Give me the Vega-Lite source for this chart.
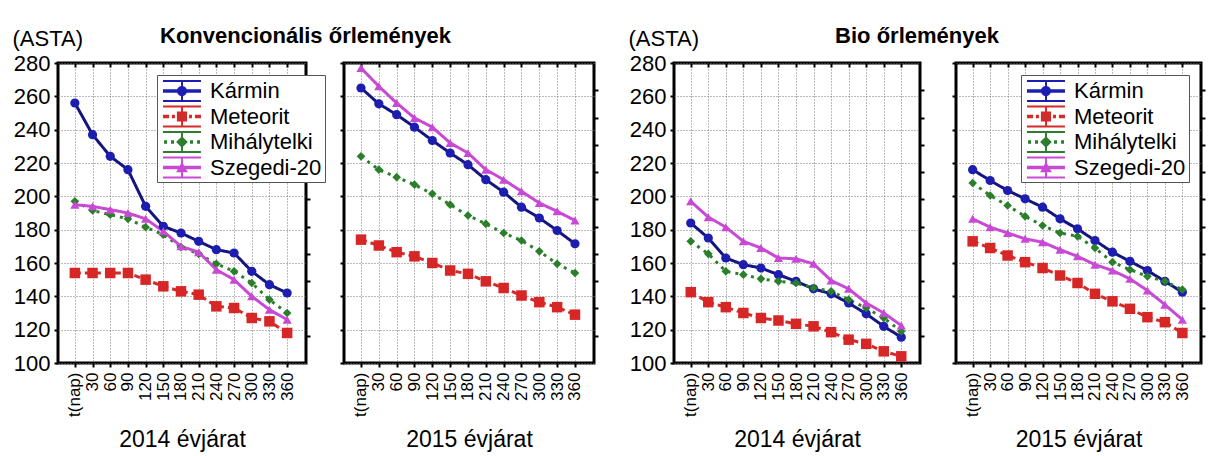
{
  "$schema": "https://vega.github.io/schema/vega-lite/v6.json",
  "background": "white",
  "padding": {"left": 10, "top": 24, "right": 0, "bottom": 0},
  "config": {
    "font": "Liberation Sans",
    "view": {"stroke": "black", "strokeWidth": 3},
    "axis": {"labelColor": "black", "titleColor": "black", "tickColor": "black", "tickWidth": 2, "domain": false, "gridColor": "#777", "gridDash": [1, 2], "gridWidth": 1, "labelFont": "Liberation Sans", "titleFont": "Liberation Sans"},
    "title": {"color": "black", "font": "Liberation Sans"},
    "legend": {"labelFontSize": 22, "labelColor": "black", "labelFont": "Liberation Sans", "symbolSize": 676, "symbolStrokeWidth": 0, "symbolOpacity": 1, "labelOffset": 24, "padding": 3, "rowPadding": 0.5, "strokeColor": "#555", "fillColor": "white"}
  },
  "datasets": {
    "d": [
      {"p": "K14", "t": 0, "Kármin": 256, "Meteorit": 154, "Mihálytelki": 197, "Szegedi-20": 195},
      {"p": "K14", "t": 30, "Kármin": 237, "Meteorit": 154, "Mihálytelki": 191.5, "Szegedi-20": 194},
      {"p": "K14", "t": 60, "Kármin": 224, "Meteorit": 154, "Mihálytelki": 189, "Szegedi-20": 192},
      {"p": "K14", "t": 90, "Kármin": 216, "Meteorit": 154, "Mihálytelki": 186.5, "Szegedi-20": 190},
      {"p": "K14", "t": 120, "Kármin": 194, "Meteorit": 150, "Mihálytelki": 181.5, "Szegedi-20": 186.5},
      {"p": "K14", "t": 150, "Kármin": 182, "Meteorit": 146, "Mihálytelki": 177, "Szegedi-20": 179},
      {"p": "K14", "t": 180, "Kármin": 178, "Meteorit": 143, "Mihálytelki": 169.5, "Szegedi-20": 170},
      {"p": "K14", "t": 210, "Kármin": 173, "Meteorit": 141, "Mihálytelki": 165.5, "Szegedi-20": 166.5},
      {"p": "K14", "t": 240, "Kármin": 168, "Meteorit": 134, "Mihálytelki": 159.5, "Szegedi-20": 156},
      {"p": "K14", "t": 270, "Kármin": 166, "Meteorit": 133, "Mihálytelki": 155, "Szegedi-20": 150},
      {"p": "K14", "t": 300, "Kármin": 155, "Meteorit": 127, "Mihálytelki": 148, "Szegedi-20": 140},
      {"p": "K14", "t": 330, "Kármin": 147, "Meteorit": 125, "Mihálytelki": 138, "Szegedi-20": 132},
      {"p": "K14", "t": 360, "Kármin": 142, "Meteorit": 118, "Mihálytelki": 130, "Szegedi-20": 126},
      {"p": "K15", "t": 0, "Kármin": 265, "Meteorit": 174, "Mihálytelki": 224, "Szegedi-20": 277},
      {"p": "K15", "t": 30, "Kármin": 255.5, "Meteorit": 170.5, "Mihálytelki": 216, "Szegedi-20": 266},
      {"p": "K15", "t": 60, "Kármin": 249, "Meteorit": 166.5, "Mihálytelki": 211.5, "Szegedi-20": 256},
      {"p": "K15", "t": 90, "Kármin": 241.5, "Meteorit": 164, "Mihálytelki": 207, "Szegedi-20": 247},
      {"p": "K15", "t": 120, "Kármin": 233.5, "Meteorit": 160, "Mihálytelki": 201.5, "Szegedi-20": 241.5},
      {"p": "K15", "t": 150, "Kármin": 226, "Meteorit": 155.5, "Mihálytelki": 195, "Szegedi-20": 232},
      {"p": "K15", "t": 180, "Kármin": 219, "Meteorit": 153.5, "Mihálytelki": 188.5, "Szegedi-20": 226},
      {"p": "K15", "t": 210, "Kármin": 210, "Meteorit": 149, "Mihálytelki": 183.5, "Szegedi-20": 216},
      {"p": "K15", "t": 240, "Kármin": 202.5, "Meteorit": 145, "Mihálytelki": 178, "Szegedi-20": 210},
      {"p": "K15", "t": 270, "Kármin": 193.5, "Meteorit": 140.5, "Mihálytelki": 173.5, "Szegedi-20": 203},
      {"p": "K15", "t": 300, "Kármin": 187, "Meteorit": 136.5, "Mihálytelki": 167, "Szegedi-20": 196},
      {"p": "K15", "t": 330, "Kármin": 179.5, "Meteorit": 133.5, "Mihálytelki": 159.5, "Szegedi-20": 191},
      {"p": "K15", "t": 360, "Kármin": 171.5, "Meteorit": 129, "Mihálytelki": 154, "Szegedi-20": 185.5},
      {"p": "B14", "t": 0, "Kármin": 184, "Meteorit": 142.5, "Mihálytelki": 173, "Szegedi-20": 197},
      {"p": "B14", "t": 30, "Kármin": 175, "Meteorit": 136.5, "Mihálytelki": 165.5, "Szegedi-20": 187.5},
      {"p": "B14", "t": 60, "Kármin": 163, "Meteorit": 133.5, "Mihálytelki": 155, "Szegedi-20": 181.5},
      {"p": "B14", "t": 90, "Kármin": 159, "Meteorit": 130, "Mihálytelki": 153, "Szegedi-20": 173},
      {"p": "B14", "t": 120, "Kármin": 157, "Meteorit": 127, "Mihálytelki": 150.5, "Szegedi-20": 169},
      {"p": "B14", "t": 150, "Kármin": 153, "Meteorit": 125.5, "Mihálytelki": 149, "Szegedi-20": 163},
      {"p": "B14", "t": 180, "Kármin": 149, "Meteorit": 123.5, "Mihálytelki": 148, "Szegedi-20": 162.5},
      {"p": "B14", "t": 210, "Kármin": 144.5, "Meteorit": 122, "Mihálytelki": 145, "Szegedi-20": 159.5},
      {"p": "B14", "t": 240, "Kármin": 141.5, "Meteorit": 118.5, "Mihálytelki": 143, "Szegedi-20": 149.5},
      {"p": "B14", "t": 270, "Kármin": 136, "Meteorit": 114, "Mihálytelki": 138, "Szegedi-20": 144.5},
      {"p": "B14", "t": 300, "Kármin": 129.5, "Meteorit": 111.5, "Mihálytelki": 133, "Szegedi-20": 136},
      {"p": "B14", "t": 330, "Kármin": 122, "Meteorit": 107, "Mihálytelki": 127, "Szegedi-20": 130},
      {"p": "B14", "t": 360, "Kármin": 115.5, "Meteorit": 104, "Mihálytelki": 119, "Szegedi-20": 122.5},
      {"p": "B15", "t": 0, "Kármin": 216, "Meteorit": 173, "Mihálytelki": 208, "Szegedi-20": 186.5},
      {"p": "B15", "t": 30, "Kármin": 209.5, "Meteorit": 169, "Mihálytelki": 200.5, "Szegedi-20": 181.5},
      {"p": "B15", "t": 60, "Kármin": 203.5, "Meteorit": 164.5, "Mihálytelki": 194.5, "Szegedi-20": 178},
      {"p": "B15", "t": 90, "Kármin": 198.5, "Meteorit": 160.5, "Mihálytelki": 188, "Szegedi-20": 174.5},
      {"p": "B15", "t": 120, "Kármin": 193.5, "Meteorit": 157, "Mihálytelki": 182.5, "Szegedi-20": 172.5},
      {"p": "B15", "t": 150, "Kármin": 186.5, "Meteorit": 152.5, "Mihálytelki": 178, "Szegedi-20": 168},
      {"p": "B15", "t": 180, "Kármin": 180.5, "Meteorit": 148, "Mihálytelki": 176, "Szegedi-20": 164},
      {"p": "B15", "t": 210, "Kármin": 173.5, "Meteorit": 141.5, "Mihálytelki": 169, "Szegedi-20": 159},
      {"p": "B15", "t": 240, "Kármin": 166.5, "Meteorit": 137, "Mihálytelki": 160.5, "Szegedi-20": 155.5},
      {"p": "B15", "t": 270, "Kármin": 161, "Meteorit": 132.5, "Mihálytelki": 156, "Szegedi-20": 150.5},
      {"p": "B15", "t": 300, "Kármin": 155.5, "Meteorit": 127.5, "Mihálytelki": 152, "Szegedi-20": 143.5},
      {"p": "B15", "t": 330, "Kármin": 149, "Meteorit": 124.5, "Mihálytelki": 149, "Szegedi-20": 135},
      {"p": "B15", "t": 360, "Kármin": 142.5, "Meteorit": 118, "Mihálytelki": 144, "Szegedi-20": 126}
    ]
  },
  "data": {"name": "d"},
  "spacing": 25,
  "hconcat": [
    {
      "title": {"text": "Konvencionális őrlemények", "anchor": "middle", "fontSize": 22, "fontWeight": "bold", "offset": -22},
      "spacing": 10,
      "hconcat": [
        {
          "width": 248, "height": 300,
          "transform": [{"filter": "datum.p == 'K14'"}, {"fold": ["Kármin", "Meteorit", "Mihálytelki", "Szegedi-20"], "as": ["fajta", "v"]}],
          "resolve": {"scale": {"color": "independent", "shape": "independent"}, "axis": {"x": "independent", "y": "independent"}},
          "layer": [
            {"mark": {"type": "line", "strokeWidth": 3},
             "encoding": {
               "x": {"field": "t", "type": "quantitative", "scale": {"domain": [-28.6, 392], "nice": false, "zero": false},
                     "axis": {"orient": "bottom", "values": [0,30,60,90,120,150,180,210,240,270,300,330,360], "labelExpr": "datum.value == 0 ? 't(nap)' : datum.label", "labelAngle": 270, "labelFontSize": 17, "labelPadding": 5, "labelOverlap": false, "labelFlush": false, "grid": true, "tickSize": 4, "title": "2014 évjárat", "titleFontSize": 23, "titleFontWeight": "normal", "titlePadding": 12}},
               "y": {"field": "v", "type": "quantitative", "scale": {"domain": [100, 280], "nice": false, "zero": false},
                     "axis": {"orient": "left", "values": [100,120,140,160,180,200,220,240,260,280], "labelFontSize": 22, "labelPadding": 4, "labelFlush": false, "labelOverlap": false, "grid": true, "tickSize": 4, "title": "(ASTA)", "titleAngle": 0, "titleAlign": "left", "titleBaseline": "alphabetic", "titleX": -46, "titleY": -18, "titleFontSize": 22, "titleFontWeight": "normal"}},
               "color": {"field": "fajta", "type": "nominal", "scale": {"domain": ["Kármin", "Meteorit", "Mihálytelki", "Szegedi-20"], "range": ["#15157e", "#d42a2a", "#2e7d2e", "#c84ad4"]}, "legend": null},
               "strokeDash": {"field": "fajta", "type": "nominal", "scale": {"domain": ["Kármin", "Meteorit", "Mihálytelki", "Szegedi-20"], "range": [[1, 0], [6, 4], [3, 5], [1, 0]]}, "legend": null}
             }},
            {"mark": {"type": "point", "filled": true, "opacity": 1},
             "encoding": {
               "x": {"field": "t", "type": "quantitative", "scale": {"domain": [-28.6, 392], "nice": false, "zero": false}, "axis": null},
               "y": {"field": "v", "type": "quantitative", "scale": {"domain": [100, 280], "nice": false, "zero": false}, "axis": null},
               "color": {"field": "fajta", "type": "nominal", "scale": {"domain": ["Kármin", "Meteorit", "Mihálytelki", "Szegedi-20"], "range": ["#1d1db0", "#d62626", "#2a7f2a", "#c84ad4"]}, "legend": null},
               "shape": {"field": "fajta", "type": "nominal", "scale": {"domain": ["Kármin", "Meteorit", "Mihálytelki", "Szegedi-20"], "range": ["circle", "square", "diamond", "triangle-up"]}, "legend": null},
               "size": {"condition": [{"test": "datum.fajta == 'Meteorit'", "value": 110}, {"test": "datum.fajta == 'Mihálytelki'", "value": 75}], "value": 85}
             }},
            {"transform": [{"filter": "false"}],
             "mark": {"type": "point", "filled": true, "opacity": 1},
             "encoding": {
               "x": {"field": "t", "type": "quantitative", "scale": {"domain": [-28.6, 392], "nice": false, "zero": false},
                     "axis": {"orient": "top", "values": [0,30,60,90,120,150,180,210,240,270,300,330,360], "labels": false, "grid": false, "tickSize": -4, "title": null}},
               "y": {"field": "v", "type": "quantitative", "scale": {"domain": [100, 280], "nice": false, "zero": false},
                     "axis": {"orient": "right", "values": [116.36,132.73,149.09,165.45,181.82,198.18,214.55,230.91,247.27,263.64], "labels": false, "grid": false, "tickSize": 4, "title": null}},
               "color": {"field": "fajta", "type": "nominal", "scale": {"domain": ["Kármin", "Meteorit", "Mihálytelki", "Szegedi-20"], "range": ["#1d1db0", "#d42a2a", "#2e7d2e", "#c84ad4"]}, "legend": {"title": null, "orient": "none", "legendX": 99, "legendY": 12}},
               "shape": {"field": "fajta", "type": "nominal", "scale": {"domain": ["Kármin", "Meteorit", "Mihálytelki", "Szegedi-20"], "range": [
                 "M-0.77,-0.85H2.15V-0.69H-0.77Z M-0.77,0.69H2.15V0.85H-0.77Z M0.62,-0.85H0.77V0.85H0.62Z M-0.77,-0.14H2.15V0.14H-0.77Z M1.08,0A0.39,0.39 0 1,1 0.3,0A0.39,0.39 0 1,1 1.08,0Z",
                 "M-0.77,-0.85H2.15V-0.69H-0.77Z M-0.77,0.69H2.15V0.85H-0.77Z M0.62,-0.85H0.77V0.85H0.62Z M-0.77,-0.14H-0.3V0.14H-0.77Z M-0.08,-0.14H0.15V0.14H-0.08Z M1.23,-0.14H1.46V0.14H1.23Z M1.69,-0.14H2.15V0.14H1.69Z M0.3,-0.39H1.08V0.39H0.3Z",
                 "M-0.77,-0.85H2.15V-0.69H-0.77Z M-0.77,0.69H2.15V0.85H-0.77Z M0.62,-0.85H0.77V0.85H0.62Z M-0.69,-0.14H-0.46V0.14H-0.69Z M-0.15,-0.14H0.08V0.14H-0.15Z M1.31,-0.14H1.54V0.14H1.31Z M1.85,-0.14H2.08V0.14H1.85Z M0.69,-0.45L1.14,0L0.69,0.45L0.24,0Z",
                 "M-0.77,-0.85H2.15V-0.69H-0.77Z M-0.77,0.69H2.15V0.85H-0.77Z M0.62,-0.85H0.77V0.85H0.62Z M-0.77,-0.14H2.15V0.14H-0.77Z M0.69,-0.45L1.14,0.36H0.24Z"
               ]}, "legend": {"title": null, "orient": "none", "legendX": 99, "legendY": 12}}
             }}
          ]
        },
        {
          "width": 250, "height": 300,
          "transform": [{"filter": "datum.p == 'K15'"}, {"fold": ["Kármin", "Meteorit", "Mihálytelki", "Szegedi-20"], "as": ["fajta", "v"]}],
          "resolve": {"scale": {"color": "independent", "shape": "independent"}, "axis": {"x": "independent", "y": "independent"}},
          "layer": [
            {"mark": {"type": "line", "strokeWidth": 3},
             "encoding": {
               "x": {"field": "t", "type": "quantitative", "scale": {"domain": [-28.6, 392], "nice": false, "zero": false},
                     "axis": {"orient": "bottom", "values": [0,30,60,90,120,150,180,210,240,270,300,330,360], "labelExpr": "datum.value == 0 ? 't(nap)' : datum.label", "labelAngle": 270, "labelFontSize": 17, "labelPadding": 5, "labelOverlap": false, "labelFlush": false, "grid": true, "tickSize": 4, "title": "2015 évjárat", "titleFontSize": 23, "titleFontWeight": "normal", "titlePadding": 12}},
               "y": {"field": "v", "type": "quantitative", "scale": {"domain": [100, 280], "nice": false, "zero": false},
                     "axis": {"orient": "left", "values": [100,120,140,160,180,200,220,240,260,280], "labels": false, "grid": true, "tickSize": 4, "title": null}},
               "color": {"field": "fajta", "type": "nominal", "scale": {"domain": ["Kármin", "Meteorit", "Mihálytelki", "Szegedi-20"], "range": ["#15157e", "#d42a2a", "#2e7d2e", "#c84ad4"]}, "legend": null},
               "strokeDash": {"field": "fajta", "type": "nominal", "scale": {"domain": ["Kármin", "Meteorit", "Mihálytelki", "Szegedi-20"], "range": [[1, 0], [6, 4], [3, 5], [1, 0]]}, "legend": null}
             }},
            {"mark": {"type": "point", "filled": true, "opacity": 1},
             "encoding": {
               "x": {"field": "t", "type": "quantitative", "scale": {"domain": [-28.6, 392], "nice": false, "zero": false}, "axis": null},
               "y": {"field": "v", "type": "quantitative", "scale": {"domain": [100, 280], "nice": false, "zero": false}, "axis": null},
               "color": {"field": "fajta", "type": "nominal", "scale": {"domain": ["Kármin", "Meteorit", "Mihálytelki", "Szegedi-20"], "range": ["#1d1db0", "#d62626", "#2a7f2a", "#c84ad4"]}, "legend": null},
               "shape": {"field": "fajta", "type": "nominal", "scale": {"domain": ["Kármin", "Meteorit", "Mihálytelki", "Szegedi-20"], "range": ["circle", "square", "diamond", "triangle-up"]}, "legend": null},
               "size": {"condition": [{"test": "datum.fajta == 'Meteorit'", "value": 110}, {"test": "datum.fajta == 'Mihálytelki'", "value": 75}], "value": 85}
             }},
            {"transform": [{"filter": "false"}],
             "mark": {"type": "point", "filled": true, "opacity": 1},
             "encoding": {
               "x": {"field": "t", "type": "quantitative", "scale": {"domain": [-28.6, 392], "nice": false, "zero": false},
                     "axis": {"orient": "top", "values": [0,30,60,90,120,150,180,210,240,270,300,330,360], "labels": false, "grid": false, "tickSize": -4, "title": null}},
               "y": {"field": "v", "type": "quantitative", "scale": {"domain": [100, 280], "nice": false, "zero": false},
                     "axis": {"orient": "right", "values": [116.36,132.73,149.09,165.45,181.82,198.18,214.55,230.91,247.27,263.64], "labels": false, "grid": false, "tickSize": 4, "title": null}}
             }}
          ]
        }
      ]
    },
    {
      "title": {"text": "Bio őrlemények", "anchor": "middle", "fontSize": 22, "fontWeight": "bold", "offset": -22},
      "spacing": 22,
      "hconcat": [
        {
          "width": 246, "height": 300,
          "transform": [{"filter": "datum.p == 'B14'"}, {"fold": ["Kármin", "Meteorit", "Mihálytelki", "Szegedi-20"], "as": ["fajta", "v"]}],
          "resolve": {"scale": {"color": "independent", "shape": "independent"}, "axis": {"x": "independent", "y": "independent"}},
          "layer": [
            {"mark": {"type": "line", "strokeWidth": 3},
             "encoding": {
               "x": {"field": "t", "type": "quantitative", "scale": {"domain": [-28.6, 392], "nice": false, "zero": false},
                     "axis": {"orient": "bottom", "values": [0,30,60,90,120,150,180,210,240,270,300,330,360], "labelExpr": "datum.value == 0 ? 't(nap)' : datum.label", "labelAngle": 270, "labelFontSize": 17, "labelPadding": 5, "labelOverlap": false, "labelFlush": false, "grid": true, "tickSize": 4, "title": "2014 évjárat", "titleFontSize": 23, "titleFontWeight": "normal", "titlePadding": 12}},
               "y": {"field": "v", "type": "quantitative", "scale": {"domain": [100, 280], "nice": false, "zero": false},
                     "axis": {"orient": "left", "values": [100,120,140,160,180,200,220,240,260,280], "labelFontSize": 22, "labelPadding": 4, "labelFlush": false, "labelOverlap": false, "grid": true, "tickSize": 4, "title": "(ASTA)", "titleAngle": 0, "titleAlign": "left", "titleBaseline": "alphabetic", "titleX": -46, "titleY": -18, "titleFontSize": 22, "titleFontWeight": "normal"}},
               "color": {"field": "fajta", "type": "nominal", "scale": {"domain": ["Kármin", "Meteorit", "Mihálytelki", "Szegedi-20"], "range": ["#15157e", "#d42a2a", "#2e7d2e", "#c84ad4"]}, "legend": null},
               "strokeDash": {"field": "fajta", "type": "nominal", "scale": {"domain": ["Kármin", "Meteorit", "Mihálytelki", "Szegedi-20"], "range": [[1, 0], [6, 4], [3, 5], [1, 0]]}, "legend": null}
             }},
            {"mark": {"type": "point", "filled": true, "opacity": 1},
             "encoding": {
               "x": {"field": "t", "type": "quantitative", "scale": {"domain": [-28.6, 392], "nice": false, "zero": false}, "axis": null},
               "y": {"field": "v", "type": "quantitative", "scale": {"domain": [100, 280], "nice": false, "zero": false}, "axis": null},
               "color": {"field": "fajta", "type": "nominal", "scale": {"domain": ["Kármin", "Meteorit", "Mihálytelki", "Szegedi-20"], "range": ["#1d1db0", "#d62626", "#2a7f2a", "#c84ad4"]}, "legend": null},
               "shape": {"field": "fajta", "type": "nominal", "scale": {"domain": ["Kármin", "Meteorit", "Mihálytelki", "Szegedi-20"], "range": ["circle", "square", "diamond", "triangle-up"]}, "legend": null},
               "size": {"condition": [{"test": "datum.fajta == 'Meteorit'", "value": 110}, {"test": "datum.fajta == 'Mihálytelki'", "value": 75}], "value": 85}
             }},
            {"transform": [{"filter": "false"}],
             "mark": {"type": "point", "filled": true, "opacity": 1},
             "encoding": {
               "x": {"field": "t", "type": "quantitative", "scale": {"domain": [-28.6, 392], "nice": false, "zero": false},
                     "axis": {"orient": "top", "values": [0,30,60,90,120,150,180,210,240,270,300,330,360], "labels": false, "grid": false, "tickSize": -4, "title": null}},
               "y": {"field": "v", "type": "quantitative", "scale": {"domain": [100, 280], "nice": false, "zero": false},
                     "axis": {"orient": "right", "values": [116.36,132.73,149.09,165.45,181.82,198.18,214.55,230.91,247.27,263.64], "labels": false, "grid": false, "tickSize": 4, "title": null}}
             }}
          ]
        },
        {
          "width": 245, "height": 300,
          "transform": [{"filter": "datum.p == 'B15'"}, {"fold": ["Kármin", "Meteorit", "Mihálytelki", "Szegedi-20"], "as": ["fajta", "v"]}],
          "resolve": {"scale": {"color": "independent", "shape": "independent"}, "axis": {"x": "independent", "y": "independent"}},
          "layer": [
            {"mark": {"type": "line", "strokeWidth": 3},
             "encoding": {
               "x": {"field": "t", "type": "quantitative", "scale": {"domain": [-28.6, 392], "nice": false, "zero": false},
                     "axis": {"orient": "bottom", "values": [0,30,60,90,120,150,180,210,240,270,300,330,360], "labelExpr": "datum.value == 0 ? 't(nap)' : datum.label", "labelAngle": 270, "labelFontSize": 17, "labelPadding": 5, "labelOverlap": false, "labelFlush": false, "grid": true, "tickSize": 4, "title": "2015 évjárat", "titleFontSize": 23, "titleFontWeight": "normal", "titlePadding": 12}},
               "y": {"field": "v", "type": "quantitative", "scale": {"domain": [100, 280], "nice": false, "zero": false},
                     "axis": {"orient": "left", "values": [100,120,140,160,180,200,220,240,260,280], "labels": false, "grid": true, "tickSize": 4, "title": null}},
               "color": {"field": "fajta", "type": "nominal", "scale": {"domain": ["Kármin", "Meteorit", "Mihálytelki", "Szegedi-20"], "range": ["#15157e", "#d42a2a", "#2e7d2e", "#c84ad4"]}, "legend": null},
               "strokeDash": {"field": "fajta", "type": "nominal", "scale": {"domain": ["Kármin", "Meteorit", "Mihálytelki", "Szegedi-20"], "range": [[1, 0], [6, 4], [3, 5], [1, 0]]}, "legend": null}
             }},
            {"mark": {"type": "point", "filled": true, "opacity": 1},
             "encoding": {
               "x": {"field": "t", "type": "quantitative", "scale": {"domain": [-28.6, 392], "nice": false, "zero": false}, "axis": null},
               "y": {"field": "v", "type": "quantitative", "scale": {"domain": [100, 280], "nice": false, "zero": false}, "axis": null},
               "color": {"field": "fajta", "type": "nominal", "scale": {"domain": ["Kármin", "Meteorit", "Mihálytelki", "Szegedi-20"], "range": ["#1d1db0", "#d62626", "#2a7f2a", "#c84ad4"]}, "legend": null},
               "shape": {"field": "fajta", "type": "nominal", "scale": {"domain": ["Kármin", "Meteorit", "Mihálytelki", "Szegedi-20"], "range": ["circle", "square", "diamond", "triangle-up"]}, "legend": null},
               "size": {"condition": [{"test": "datum.fajta == 'Meteorit'", "value": 110}, {"test": "datum.fajta == 'Mihálytelki'", "value": 75}], "value": 85}
             }},
            {"transform": [{"filter": "false"}],
             "mark": {"type": "point", "filled": true, "opacity": 1},
             "encoding": {
               "x": {"field": "t", "type": "quantitative", "scale": {"domain": [-28.6, 392], "nice": false, "zero": false},
                     "axis": {"orient": "top", "values": [0,30,60,90,120,150,180,210,240,270,300,330,360], "labels": false, "grid": false, "tickSize": -4, "title": null}},
               "y": {"field": "v", "type": "quantitative", "scale": {"domain": [100, 280], "nice": false, "zero": false},
                     "axis": {"orient": "right", "values": [116.36,132.73,149.09,165.45,181.82,198.18,214.55,230.91,247.27,263.64], "labels": false, "grid": false, "tickSize": 4, "title": null}},
               "color": {"field": "fajta", "type": "nominal", "scale": {"domain": ["Kármin", "Meteorit", "Mihálytelki", "Szegedi-20"], "range": ["#1d1db0", "#d42a2a", "#2e7d2e", "#c84ad4"]}, "legend": {"title": null, "orient": "none", "legendX": 65, "legendY": 12}},
               "shape": {"field": "fajta", "type": "nominal", "scale": {"domain": ["Kármin", "Meteorit", "Mihálytelki", "Szegedi-20"], "range": [
                 "M-0.77,-0.85H2.15V-0.69H-0.77Z M-0.77,0.69H2.15V0.85H-0.77Z M0.62,-0.85H0.77V0.85H0.62Z M-0.77,-0.14H2.15V0.14H-0.77Z M1.08,0A0.39,0.39 0 1,1 0.3,0A0.39,0.39 0 1,1 1.08,0Z",
                 "M-0.77,-0.85H2.15V-0.69H-0.77Z M-0.77,0.69H2.15V0.85H-0.77Z M0.62,-0.85H0.77V0.85H0.62Z M-0.77,-0.14H-0.3V0.14H-0.77Z M-0.08,-0.14H0.15V0.14H-0.08Z M1.23,-0.14H1.46V0.14H1.23Z M1.69,-0.14H2.15V0.14H1.69Z M0.3,-0.39H1.08V0.39H0.3Z",
                 "M-0.77,-0.85H2.15V-0.69H-0.77Z M-0.77,0.69H2.15V0.85H-0.77Z M0.62,-0.85H0.77V0.85H0.62Z M-0.69,-0.14H-0.46V0.14H-0.69Z M-0.15,-0.14H0.08V0.14H-0.15Z M1.31,-0.14H1.54V0.14H1.31Z M1.85,-0.14H2.08V0.14H1.85Z M0.69,-0.45L1.14,0L0.69,0.45L0.24,0Z",
                 "M-0.77,-0.85H2.15V-0.69H-0.77Z M-0.77,0.69H2.15V0.85H-0.77Z M0.62,-0.85H0.77V0.85H0.62Z M-0.77,-0.14H2.15V0.14H-0.77Z M0.69,-0.45L1.14,0.36H0.24Z"
               ]}, "legend": {"title": null, "orient": "none", "legendX": 65, "legendY": 12}}
             }}
          ]
        }
      ]
    }
  ]
}
